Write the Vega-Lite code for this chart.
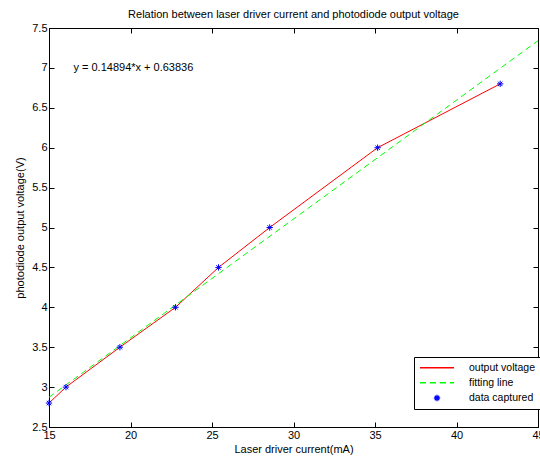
{
  "$schema": "https://vega.github.io/schema/vega-lite/v6.json",
  "width": 489,
  "height": 399,
  "autosize": {"type": "none"},
  "padding": {"left": 49, "top": 28, "right": 2, "bottom": 30},
  "background": "white",
  "config": {
    "font": "Liberation Sans",
    "view": {"stroke": "black", "strokeWidth": 1},
    "axis": {
      "grid": false,
      "domainColor": "black",
      "tickColor": "black",
      "tickSize": -5,
      "labelColor": "black",
      "labelFontSize": 11,
      "labelFlush": false,
      "labelOverlap": false,
      "titleFontSize": 11,
      "titleFontWeight": "normal",
      "titleColor": "black",
      "labelFont": "Liberation Sans",
      "titleFont": "Liberation Sans"
    },
    "title": {"fontSize": 11, "fontWeight": "normal", "font": "Liberation Sans", "color": "black", "offset": 2}
  },
  "title": "Relation between laser driver current and photodiode output voltage",
  "datasets": {
    "captured": [
      {"current": 15, "voltage": 2.8},
      {"current": 16.04, "voltage": 3.0},
      {"current": 19.35, "voltage": 3.5},
      {"current": 22.76, "voltage": 4.0},
      {"current": 25.4, "voltage": 4.5},
      {"current": 28.54, "voltage": 5.0},
      {"current": 35.16, "voltage": 6.0},
      {"current": 42.68, "voltage": 6.8}
    ],
    "fit": [
      {"current": 15, "voltage": 2.87246},
      {"current": 45, "voltage": 7.34066}
    ],
    "note": [
      {"current": 16.5, "voltage": 7.0, "label": "y = 0.14894*x + 0.63836"}
    ]
  },
  "layer": [
    {
      "data": {"name": "captured"},
      "mark": {"type": "line", "strokeWidth": 1},
      "encoding": {
        "x": {"field": "current", "type": "quantitative",
              "scale": {"domain": [15, 45], "nice": false, "zero": false},
              "axis": {"values": [15, 20, 25, 30, 35, 40, 45], "title": "Laser driver current(mA)", "labelPadding": 7, "titlePadding": 3}},
        "y": {"field": "voltage", "type": "quantitative",
              "scale": {"domain": [2.5, 7.5], "nice": false, "zero": false},
              "axis": {"values": [2.5, 3, 3.5, 4, 4.5, 5, 5.5, 6, 6.5, 7, 7.5], "format": ".1~f", "title": "photodiode output voltage(V)", "labelPadding": 7, "titlePadding": 6}},
        "color": {"datum": "output voltage", "type": "nominal",
          "scale": {"domain": ["output voltage", "fitting line", "data captured"], "range": ["#ff0000", "#00ff00", "#0000ff"]},
          "legend": {
            "title": null,
            "orient": "none",
            "legendX": 365,
            "legendY": 329,
            "fillColor": "white",
            "strokeColor": "black",
            "padding": 5,
            "labelFontSize": 10.5,
            "labelColor": "black",
            "labelFont": "Liberation Sans",
            "symbolSize": 100,
            "symbolStrokeWidth": 1,
            "symbolOffset": 12,
            "labelOffset": 26,
            "rowPadding": 3,
            "encode": {
              "symbols": {
                "update": {
                  "shape": {"signal": "datum.value === 'data captured' ? 'M-1,0L1,0M0,-1L0,1M-0.7,-0.7L0.7,0.7M-0.7,0.7L0.7,-0.7' : 'M-3.4,-0.05L3.4,-0.05'"},
                  "strokeDash": {"signal": "datum.value === 'fitting line' ? [6,4] : [100,0]"},
                  "size": {"signal": "datum.value === 'data captured' ? 40 : 100"},
                  "stroke": {"signal": "datum.value === 'output voltage' ? '#ff0000' : (datum.value === 'fitting line' ? '#00ff00' : '#0000ff')"},
                  "fill": {"value": null},
                  "strokeWidth": {"value": 1.3}
                }
              }
            }
          }}
      }
    },
    {
      "data": {"name": "fit"},
      "mark": {"type": "line", "strokeWidth": 1, "strokeDash": [6, 4]},
      "encoding": {
        "x": {"field": "current", "type": "quantitative", "axis": null},
        "y": {"field": "voltage", "type": "quantitative", "axis": null},
        "color": {"datum": "fitting line", "type": "nominal"}
      }
    },
    {
      "data": {"name": "captured"},
      "mark": {"type": "point", "shape": "M-1,0L1,0M0,-1L0,1M-0.7,-0.7L0.7,0.7M-0.7,0.7L0.7,-0.7", "filled": false, "size": 40, "strokeWidth": 1, "opacity": 1},
      "encoding": {
        "x": {"field": "current", "type": "quantitative", "axis": null},
        "y": {"field": "voltage", "type": "quantitative", "axis": null},
        "color": {"datum": "data captured", "type": "nominal"}
      }
    },
    {
      "data": {"name": "note"},
      "mark": {"type": "text", "align": "left", "baseline": "middle", "fontSize": 11, "font": "Liberation Sans", "color": "black"},
      "encoding": {
        "x": {"field": "current", "type": "quantitative",
              "axis": {"orient": "top", "values": [15, 20, 25, 30, 35, 40, 45], "labels": false, "title": null, "domain": false}},
        "y": {"field": "voltage", "type": "quantitative",
              "axis": {"orient": "right", "values": [2.5, 3, 3.5, 4, 4.5, 5, 5.5, 6, 6.5, 7, 7.5], "labels": false, "title": null, "domain": false}},
        "text": {"field": "label"}
      }
    }
  ],
  "resolve": {"axis": {"x": "independent", "y": "independent"}}
}
